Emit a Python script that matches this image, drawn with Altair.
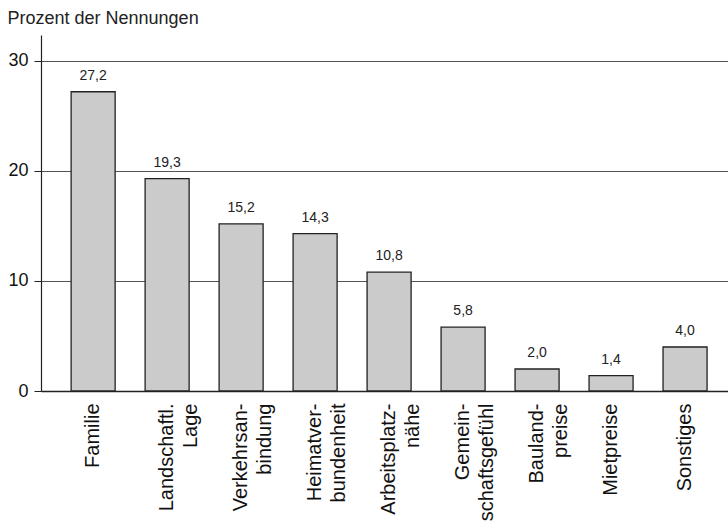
import altair as alt
import pandas as pd

# Gründe für die Wohnortwahl (Prozent der Nennungen)
categories = [
    "Familie",
    "Landschaftl.\nLage",
    "Verkehrsan-\nbindung",
    "Heimatver-\nbundenheit",
    "Arbeitsplatz-\nnähe",
    "Gemein-\nschaftsgefühl",
    "Bauland-\npreise",
    "Mietpreise",
    "Sonstiges",
]
values = [27.2, 19.3, 15.2, 14.3, 10.8, 5.8, 2.0, 1.4, 4.0]
y_ticks = [0, 10, 20, 30]

df = pd.DataFrame({"grund": categories, "anteil": values})

FONT = "Liberation Sans"

x_enc = alt.X(
    "grund:N",
    sort=categories,
    scale=alt.Scale(paddingInner=0.405, paddingOuter=0.345, align=0.59),
    axis=alt.Axis(
        title=None,
        labelAngle=-90,
        labelExpr="split(datum.label, '\\n')",
        labelFont=FONT,
        labelFontSize=20,
        labelLineHeight=24,
        labelColor="#111111",
        labelPadding=12,
        ticks=False,
        domainColor="#222222",
        domainWidth=1.5,
        labelLimit=200,
    ),
)

y_enc = alt.Y(
    "anteil:Q",
    scale=alt.Scale(domain=[0, 32.36], nice=False, zero=True),
    axis=alt.Axis(
        values=y_ticks,
        title="Prozent der Nennungen",
        titleAngle=0,
        titleX=-34,
        titleY=-12,
        titleAlign="left",
        titleBaseline="alphabetic",
        titleFont=FONT,
        titleFontSize=18,
        titleFontWeight="normal",
        titleColor="#222222",
        labelFont=FONT,
        labelFontSize=18,
        labelColor="#111111",
        labelPadding=6,
        tickSize=7,
        tickColor="#222222",
        domainColor="#222222",
        domainWidth=1.2,
        grid=True,
        gridColor="#555555",
        gridWidth=1,
    ),
)

bars = alt.Chart(df).mark_bar(
    fill="#cbcbcb", stroke="#222222", strokeWidth=1.3
).encode(x=x_enc, y=y_enc)

labels = alt.Chart(df).transform_calculate(
    txt="replace(format(datum.anteil, '.1f'), '.', ',')"
).mark_text(
    font=FONT, fontSize=14, color="#222222", baseline="alphabetic", dy=-12
).encode(
    x=alt.X("grund:N", sort=categories),
    y=alt.Y("anteil:Q"),
    text="txt:N",
)

chart = (
    alt.layer(bars, labels)
    .properties(
        width=687,
        height=356,
        autosize=alt.AutoSizeParams(type="none"),
        padding={"left": 41, "top": 35, "right": 0, "bottom": 136},
        background="white",
    )
    .configure_view(stroke=None)
)

chart.save("out.html", embed_options={"renderer": "svg", "actions": False})
